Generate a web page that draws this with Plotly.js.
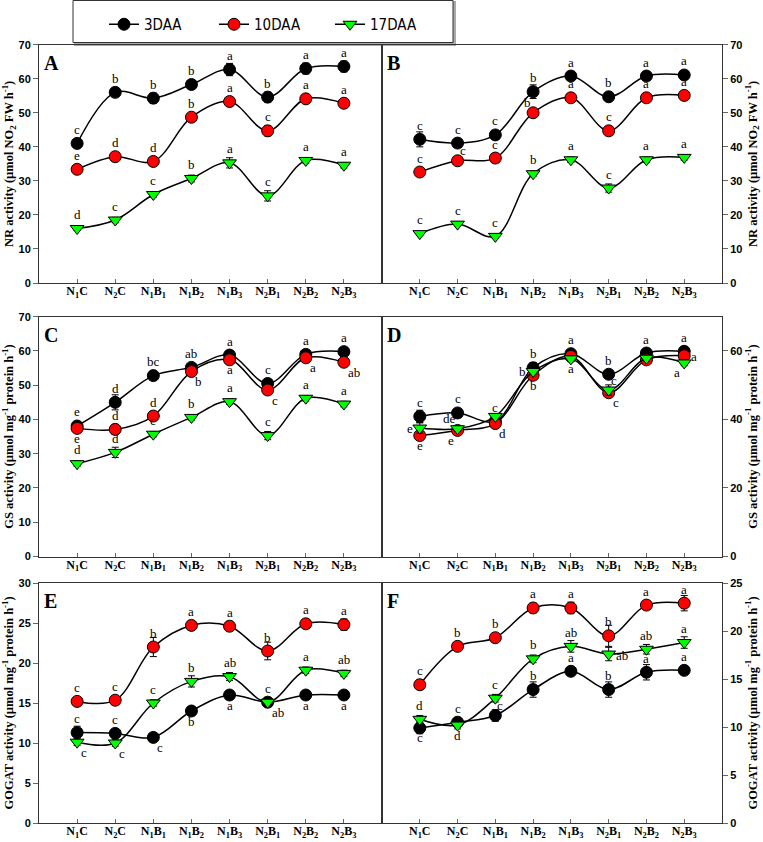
<!DOCTYPE html>
<html>
<head>
<meta charset="utf-8">
<script src="https://cdn.plot.ly/plotly-3.0.1.min.js"></script>
<style>
  body { margin: 0; background: #fff; }
  #plot { width: 763px; height: 842px; }
</style>
</head>
<body>
<div id="plot"></div>
<script>
// Treatments on the x axis
let categories = ["N1C", "N2C", "N1B1", "N1B2", "N1B3", "N2B1", "N2B2", "N2B3"];
let tickLabels = ["N<sub>1</sub>C", "N<sub>2</sub>C", "N<sub>1</sub>B<sub>1</sub>", "N<sub>1</sub>B<sub>2</sub>",
  "N<sub>1</sub>B<sub>3</sub>", "N<sub>2</sub>B<sub>1</sub>", "N<sub>2</sub>B<sub>2</sub>", "N<sub>2</sub>B<sub>3</sub>"];
let seriesNames = ["3DAA", "10DAA", "17DAA"];

// Panel A - NR activity
let nrA_3 = [41.0, 56.0, 54.3, 58.3, 62.7, 54.6, 63.0, 63.6];
let nrA_10 = [33.4, 37.1, 35.7, 48.7, 53.3, 44.7, 54.1, 52.8];
let nrA_17 = [16.0, 18.5, 26.0, 30.7, 35.3, 25.6, 36.0, 34.6];
let nrA_3err = [0.8, 0.8, 1.5, 0.8, 1.8, 1.5, 1.6, 1.6];
let nrA_10err = [0.8, 0.8, 0.8, 0.8, 1.3, 1.5, 0.8, 0.8];
let nrA_17err = [0.5, 0.8, 0.8, 1.0, 1.5, 1.5, 0.8, 0.8];
let nrA_3lab = ["c", "b", "b", "b", "a", "b", "a", "a"];
let nrA_10lab = ["e", "d", "d", "b", "a", "c", "a", "a"];
let nrA_17lab = ["d", "c", "c", "b", "a", "c", "a", "a"];

// Panel B - NR activity
let nrB_3 = [42.2, 41.1, 43.5, 56.2, 60.8, 54.7, 60.8, 61.1];
let nrB_10 = [32.6, 35.9, 36.7, 50.0, 54.4, 44.7, 54.4, 55.1];
let nrB_17 = [14.5, 17.3, 13.7, 32.1, 36.2, 27.9, 36.2, 36.9];
let nrB_3err = [2.2, 0.8, 0.8, 2.0, 0.8, 1.0, 0.8, 0.8];
let nrB_10err = [0.8, 0.5, 0.5, 0.8, 0.8, 1.2, 0.8, 0.5];
let nrB_17err = [0.5, 0.5, 0.5, 0.8, 0.8, 1.2, 0.8, 0.8];
let nrB_3lab = ["c", "c", "c", "b", "a", "b", "a", "a"];
let nrB_10lab = ["c", "c", "c", "b", "a", "c", "a", "a"];
let nrB_17lab = ["c", "c", "c", "b", "a", "c", "a", "a"];

// Panel C - GS activity
let gsC_3 = [38.1, 45.0, 52.8, 55.2, 58.8, 50.5, 59.0, 59.8];
let gsC_10 = [37.4, 37.1, 41.0, 54.0, 57.4, 48.6, 58.0, 56.7];
let gsC_17 = [27.1, 30.4, 35.7, 40.6, 45.2, 35.3, 46.2, 44.5];
let gsC_3err = [0.8, 2.2, 0.8, 1.0, 1.2, 1.0, 1.3, 1.2];
let gsC_10err = [1.0, 1.5, 0.8, 1.0, 1.2, 1.0, 1.0, 1.0];
let gsC_17err = [0.8, 1.5, 0.8, 0.8, 0.8, 1.2, 0.8, 0.8];
let gsC_3lab = ["e", "d", "bc", "ab", "a", "c", "a", "a"];
let gsC_10lab = ["e", "d", "d", "b", "a", "c", "a", "ab"];
let gsC_17lab = ["d", "d", "c", "b", "a", "c", "a", "a"];

// Panel D - GS activity
let gsD_3 = [40.9, 41.9, 39.5, 55.1, 59.2, 53.2, 59.4, 59.9];
let gsD_10 = [35.3, 36.8, 38.8, 52.9, 58.4, 47.8, 57.4, 58.6];
let gsD_17 = [37.5, 37.3, 40.9, 54.0, 57.7, 48.6, 57.9, 56.5];
let gsD_3err = [1.8, 0.8, 0.8, 1.5, 0.8, 1.0, 0.8, 0.8];
let gsD_10err = [0.8, 1.0, 0.8, 0.8, 0.8, 1.0, 0.8, 0.8];
let gsD_17err = [1.5, 0.8, 0.8, 0.8, 0.8, 1.5, 0.8, 0.8];
let gsD_3lab = ["c", "c", "c", "b", "a", "b", "a", "a"];
let gsD_10lab = ["e", "e", "d", "b", "", "c", "", "a"];
let gsD_17lab = ["e", "de", "", "b", "a", "c", "", "a"];

// Panel E - GOGAT activity
let gogatE_3 = [11.3, 11.2, 10.7, 14.0, 16.0, 15.1, 16.0, 16.0];
let gogatE_10 = [15.2, 15.35, 22.0, 24.7, 24.6, 21.5, 24.9, 24.8];
let gogatE_17 = [10.1, 10.0, 15.0, 17.7, 18.3, 15.1, 19.1, 18.7];
let gogatE_3err = [0.8, 0.5, 0.4, 0.5, 0.4, 0.5, 0.4, 0.4];
let gogatE_10err = [0.4, 0.4, 1.2, 0.6, 0.6, 1.1, 0.4, 0.7];
let gogatE_17err = [0.4, 0.4, 0.4, 0.7, 0.5, 0.6, 0.4, 0.4];
let gogatE_3lab = ["c", "c", "c", "b", "a", "ab", "a", "a"];
let gogatE_10lab = ["c", "c", "b", "a", "a", "b", "a", "a"];
let gogatE_17lab = ["c", "c", "c", "b", "ab", "c", "a", "ab"];

// Panel F - GOGAT activity
let gogatF_3 = [9.9, 10.5, 11.2, 13.9, 15.8, 13.9, 15.7, 15.9];
let gogatF_10 = [14.4, 18.4, 19.3, 22.4, 22.4, 19.5, 22.7, 22.9];
let gogatF_17 = [10.8, 10.2, 13.0, 17.1, 18.4, 17.6, 18.1, 18.8];
let gogatF_3err = [0.6, 0.5, 0.6, 0.8, 0.4, 0.8, 0.8, 0.4];
let gogatF_10err = [0.5, 0.4, 0.4, 0.5, 0.6, 1.1, 0.4, 0.8];
let gogatF_17err = [0.4, 0.4, 0.4, 0.4, 0.6, 0.7, 0.5, 0.6];
let gogatF_3lab = ["c", "c", "c", "b", "a", "b", "a", "a"];
let gogatF_10lab = ["c", "b", "b", "a", "a", "b", "a", "a"];
let gogatF_17lab = ["d", "d", "c", "b", "ab", "ab", "ab", "a"];

// where each letter sits around its point (t = top, b = bottom, r = right ...)
let T8 = ["t", "t", "t", "t", "t", "t", "t", "t"];
let panels = [
  { name: "A", ys: [nrA_3, nrA_10, nrA_17], errs: [nrA_3err, nrA_10err, nrA_17err],
    labs: [nrA_3lab, nrA_10lab, nrA_17lab], pos: [T8, T8, T8] },
  { name: "B", ys: [nrB_3, nrB_10, nrB_17], errs: [nrB_3err, nrB_10err, nrB_17err],
    labs: [nrB_3lab, nrB_10lab, nrB_17lab],
    pos: [T8, ["t", "tr", "t", "tl", "t", "t", "t", "t"], T8] },
  { name: "C", ys: [gsC_3, gsC_10, gsC_17], errs: [gsC_3err, gsC_10err, gsC_17err],
    labs: [gsC_3lab, gsC_10lab, gsC_17lab],
    pos: [T8, ["b", "t", "t", "br", "b", "br", "br", "br"], T8] },
  { name: "D", ys: [gsD_3, gsD_10, gsD_17], errs: [gsD_3err, gsD_10err, gsD_17err],
    labs: [gsD_3lab, gsD_10lab, gsD_17lab],
    pos: [T8, ["b", "bl", "br", "b", "b", "br", "t", "r"], ["l", "tl", "t", "l", "b", "tr", "t", "bl"]] },
  { name: "E", ys: [gogatE_3, gogatE_10, gogatE_17], errs: [gogatE_3err, gogatE_10err, gogatE_17err],
    labs: [gogatE_3lab, gogatE_10lab, gogatE_17lab],
    pos: [["t", "t", "br", "b", "b", "br", "b", "b"], T8, ["br", "br", "t", "t", "t", "t", "t", "t"]] },
  { name: "F", ys: [gogatF_3, gogatF_10, gogatF_17], errs: [gogatF_3err, gogatF_10err, gogatF_17err],
    labs: [gogatF_3lab, gogatF_10lab, gogatF_17lab],
    pos: [["b", "t", "tr", "t", "t", "t", "t", "t"], T8, ["t", "b", "t", "t", "t", "r", "t", "t"]] }
];

let W = 763, H = 842;
function px(x) { return x / W; }
function py(y) { return 1 - y / H; }

// panel boxes in pixels [left, right, top, bottom]
let boxes = [
  [39, 382, 44.7, 283], [382, 722, 44.7, 283],
  [39, 382, 316.7, 556.5], [382, 722, 316.7, 556.5],
  [39, 382, 583, 823], [382, 722, 583, 823]
];
let yRanges = [[0, 70], [0, 70], [0, 70], [0, 70], [0, 30], [0, 25]];
let yDticks = [10, 10, 10, 20, 5, 5];
let yTitles = [
  "NR activity (µmol NO<sub>2</sub> FW h<sup>-1</sup>)",
  "NR activity (µmol NO<sub>2</sub> FW h<sup>-1</sup>)",
  "GS activity (µmol mg<sup>-1</sup> protein h<sup>-1</sup>)",
  "GS activity (µmol mg<sup>-1</sup> protein h<sup>-1</sup>)",
  "GOGAT activity (µmol mg<sup>-1</sup> protein h<sup>-1</sup>)",
  "GOGAT activity (µmol mg<sup>-1</sup> protein h<sup>-1</sup>)"
];

let markerStyles = [
  { symbol: "circle", color: "#000000", size: 12 },
  { symbol: "circle", color: "#ff0000", size: 12 },
  { symbol: "triangle-down", color: "#00ff00", size: 12 }
];

let offsets = {
  t: { xa: "center", dx: 0, dy: 14 },
  b: { xa: "center", dx: 0, dy: -10 },
  r: { xa: "left", dx: 6, dy: -1 },
  l: { xa: "right", dx: -6, dy: 0 },
  tr: { xa: "left", dx: 1, dy: 10 },
  tl: { xa: "right", dx: -1, dy: 10 },
  br: { xa: "left", dx: 3, dy: -10 },
  bl: { xa: "right", dx: -3, dy: -10 }
};

let serif = "Liberation Serif, Times New Roman, serif";
let legendFont = { family: "Liberation Sans Narrow, DejaVu Sans Condensed, Arial Narrow, sans-serif", size: 15, color: "black" };
let legendNames = ["legend", "legend2", "legend3"];
// left edge of each legend; the symbol centre lands 20px to the right
let legendX = [104, 214, 330];

let data = [];
let annotations = [];
let layout = {
  width: W, height: H,
  margin: { l: 0, r: 0, t: 0, b: 0 },
  paper_bgcolor: "white", plot_bgcolor: "white",
  showlegend: true,
  shapes: [],
  annotations: annotations
};
// one small legend per series so each entry sits where the reference has it
legendNames.forEach(function (ln, s) {
  layout[ln] = {
    x: px(legendX[s]), y: py(8), xanchor: "left", yanchor: "top",
    bgcolor: "rgba(0,0,0,0)", borderwidth: 0, font: legendFont
  };
});

panels.forEach(function (p, i) {
  let n = i + 1;
  let xa = "x" + (n === 1 ? "" : n), ya = "y" + (n === 1 ? "" : n);
  let b = boxes[i];
  let right = (i % 2 === 1);

  layout["xaxis" + (n === 1 ? "" : n)] = {
    domain: [px(b[0]), px(b[1])], anchor: ya,
    type: "category", range: [-1, 8],
    tickvals: categories, ticktext: tickLabels,
    ticks: "inside", ticklen: 4, tickcolor: "#666", ticklabelstandoff: -3,
    showline: true, linecolor: "#333", linewidth: 1, mirror: true,
    showgrid: false, zeroline: false, fixedrange: true,
    tickfont: { family: serif, size: 12, weight: "bold", color: "black" }
  };
  layout["yaxis" + (n === 1 ? "" : n)] = {
    domain: [py(b[3]), py(b[2])], anchor: xa,
    side: right ? "right" : "left",
    range: yRanges[i], dtick: yDticks[i],
    ticks: "outside", ticklen: 5, tickcolor: "#666",
    showline: true, linecolor: "#333", linewidth: 1, mirror: true,
    showgrid: false, zeroline: false, fixedrange: true,
    tickfont: { family: "Liberation Sans, Arial, sans-serif", size: 11, weight: "bold", color: "black" },
    title: {
      text: yTitles[i], standoff: 6,
      font: { family: serif, size: 12.5, weight: "bold", color: "black" }
    }
  };

  // panel letter
  annotations.push({
    text: p.name, xref: "paper", yref: "paper",
    x: px(b[0] + 3), y: py(b[2] + 5), xanchor: "left", yanchor: "top", showarrow: false,
    font: { family: serif, size: 20, weight: "bold", color: "black" }
  });

  for (let s = 0; s < 3; s++) {
    let m = markerStyles[s];
    data.push({
      x: categories, y: p.ys[s], xaxis: xa, yaxis: ya,
      name: seriesNames[s], showlegend: i === 0, legend: legendNames[s],
      type: "scatter", mode: "lines+markers",
      line: { shape: "spline", smoothing: 1, color: "black", width: 1.5 },
      marker: { symbol: m.symbol, color: m.color, size: m.size, line: { color: "black", width: 1 } },
      error_y: { type: "data", array: p.errs[s], visible: true, color: "black", thickness: 1, width: 3.5 },
      cliponaxis: false, hoverinfo: "skip"
    });
    // significance letters
    for (let k = 0; k < categories.length; k++) {
      let lab = p.labs[s][k];
      if (!lab) continue;
      let o = offsets[p.pos[s][k]];
      annotations.push({
        text: lab, x: categories[k], y: p.ys[s][k], xref: xa, yref: ya,
        xanchor: o.xa, yanchor: "middle", xshift: o.dx, yshift: o.dy, showarrow: false,
        borderpad: 0,
        font: { family: serif, size: 13, color: "black" }
      });
    }
  }
});

// legend frame with shadow
layout.shapes.push({
  type: "rect", xref: "paper", yref: "paper",
  x0: px(75), x1: px(455), y0: py(45), y1: py(2),
  line: { color: "#aaaaaa", width: 2 }, fillcolor: "#aaaaaa", layer: "below"
});
layout.shapes.push({
  type: "rect", xref: "paper", yref: "paper",
  x0: px(73), x1: px(453), y0: py(42.5), y1: py(0.5),
  line: { color: "#333", width: 1 }, fillcolor: "white", layer: "below"
});

Plotly.newPlot("plot", data, layout, { displayModeBar: false, staticPlot: true });
</script>
</body>
</html>
